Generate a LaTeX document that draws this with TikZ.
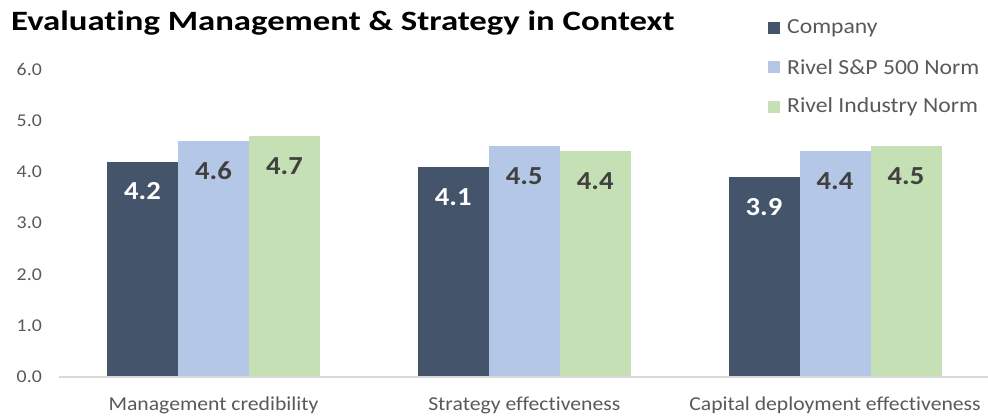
\documentclass[tikz,border=0pt]{standalone}
\usepackage{fontspec}
\setmainfont[FakeStretch=1.1, Ligatures=CommonOff]{Carlito}
\newfontfamily\titlefont[FakeStretch=1.24, Ligatures=CommonOff]{Carlito}
\definecolor{company}{HTML}{44546A}
\definecolor{spnorm}{HTML}{B4C7E7}
\definecolor{indnorm}{HTML}{C5E0B4}
\definecolor{axisgray}{HTML}{D9D9D9}
\definecolor{labelgray}{HTML}{595959}
\definecolor{valgray}{HTML}{404040}
\begin{document}
\begin{tikzpicture}[x=1pt,y=1pt,
    ticklabel/.style={text=labelgray, font=\fontsize{18}{18}\selectfont, anchor=east, inner sep=0pt},
    catlabel/.style={text=labelgray, font=\fontsize{19.7}{19.7}\selectfont, inner sep=0pt},
    vallabel/.style={font=\bfseries\fontsize{26}{26}\selectfont, inner sep=0pt},
    legendtext/.style={text=labelgray, font=\fontsize{21.5}{21.5}\selectfont, anchor=west, inner sep=0pt}]
    \useasboundingbox (0,0) rectangle (988,419);
    % Title
    \node[anchor=base west, inner sep=0pt, font=\titlefont\bfseries\fontsize{28}{28}\selectfont] (title) at (11,388) {Evaluating Management \& Strategy in Context};
    
    % Value axis
    \foreach \v in {0,...,6}
        \node[ticklabel] (tick\v) at (42, 42+51.3*\v) {\v.0};
    
    % Bars, three per category
    \foreach \cat/\a/\b/\c [count=\i from 0] in {Management credibility/4.2/4.6/4.7,
            Strategy effectiveness/4.1/4.5/4.4,
            Capital deployment effectiveness/3.9/4.4/4.5} {
        \pgfmathsetmacro{\xl}{107+310.75*\i}
        \fill[company] (\xl,42) rectangle ++(71,51.3*\a);
        \fill[spnorm] (\xl+71,42) rectangle ++(71,51.3*\b);
        \fill[indnorm] (\xl+142,42) rectangle ++(71,51.3*\c);
        \node[vallabel, text=white] (va\i) at (\xl+35.5, 12+51.3*\a) {\a};
        \node[vallabel, text=valgray] (vb\i) at (\xl+106.5, 12+51.3*\b) {\b};
        \node[vallabel, text=valgray] (vc\i) at (\xl+177.5, 12+51.3*\c) {\c};
        \node[catlabel] (cat\i) at (\xl+106.5, 14) {\cat};
    }
    \coordinate (axisL) at (59,42);
    \coordinate (axisR) at (988,42);
    \draw[axisgray, line width=1.2pt] (axisL) -- (axisR);
    
    % Legend
    \foreach \col/\txt/\y in {company/Company/391, spnorm/Rivel S\&P 500 Norm/352, indnorm/Rivel Industry Norm/312} {
        \fill[\col] (768,\y-6) rectangle ++(12,12);
        \node[legendtext] (leg\col) at (787,\y) {\txt};
    }
\end{tikzpicture}
\end{document}
